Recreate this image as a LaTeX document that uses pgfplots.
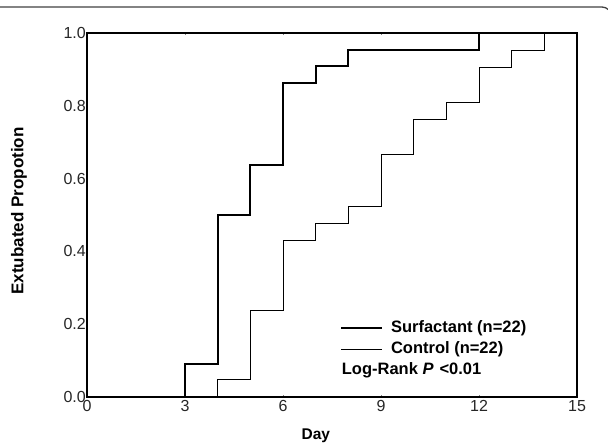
\documentclass[border=0pt]{standalone}
\usepackage{fontspec}
\setmainfont{Liberation Sans}
\usepackage{pgfplots}
\pgfplotsset{compat=1.18}

\begin{document}
\begin{tikzpicture}
% page = 608 x 444 px, axis box lower left at (0,0)
\path[use as bounding box] (-87bp,-47bp) rectangle (521bp,397bp);
\draw[line width=1.3bp, black!75, rounded corners=9bp] (-95bp,390bp) -- (524bp,390bp) -- (524bp,340bp);
\begin{axis}[
    scale only axis,
    width=490bp, height=364bp,
    xmin=0, xmax=15, ymin=0, ymax=1,
    xtick={0,3,6,9,12,15},
    ytick={0,0.2,0.4,0.6,0.8,1},
    yticklabel style={/pgf/number format/fixed, /pgf/number format/fixed zerofill,
        /pgf/number format/precision=1},
    /pgf/number format/assume math mode=true,
    tick label style={font=\fontsize{16bp}{19bp}\selectfont, text=black!85},
    xticklabel style={anchor=north, inner sep=0pt, yshift=-3bp},
    yticklabel style={anchor=east, inner sep=0pt, xshift=-1bp},
    tick align=inside, major tick length=2bp,
    ytick style={draw=none},
    axis line style={line width=2bp},
    clip=false,
    xlabel={Day},
    ylabel={Extubated Propotion},
    xlabel style={font=\bfseries\fontsize{15.5bp}{18bp}\selectfont,
        at={(axis description cs:0.467,-0.107)}, anchor=center},
    ylabel style={font=\bfseries\fontsize{17bp}{20bp}\selectfont,
        at={(axis description cs:-0.1388,0.511)}, anchor=center},
    legend cell align=left,
    legend image code/.code={\draw[#1] (0bp,0bp) -- (41bp,0bp);},
    legend style={draw=none, fill=none, at={(0.516,0.2104)}, anchor=north west,
        inner sep=0pt, column sep=8bp, row sep=6bp,
        nodes={inner sep=0pt, text height=11.5bp, text depth=3.5bp},
        font=\bfseries\fontsize{16.5bp}{19bp}\selectfont},
]
% Surfactant group
\addplot[const plot, line width=2bp, black] coordinates {
    (3,0) (3,0.0909) (4,0.5) (5,0.6364) (6,0.8636) (7,0.9091) (8,0.9545) (12,1.0)
};
\addlegendentry{Surfactant (n=22)}
% Control group
\addplot[const plot, line width=1bp, black] coordinates {
    (4,0) (4,0.0476) (5,0.2381) (6,0.4286) (7,0.4762) (8,0.5238) (9,0.6667)
    (10,0.7619) (11,0.8095) (12,0.9048) (13,0.9524) (14,1.0)
};
\addlegendentry{Control (n=22)}
\node[anchor=base west, inner sep=0pt, font=\bfseries\fontsize{16.5bp}{19bp}\selectfont]
    at (rel axis cs:0.5198,0.0607) {Log-Rank \textit{P}\hspace{6bp}<0.01};
\end{axis}
\end{tikzpicture}
\end{document}
